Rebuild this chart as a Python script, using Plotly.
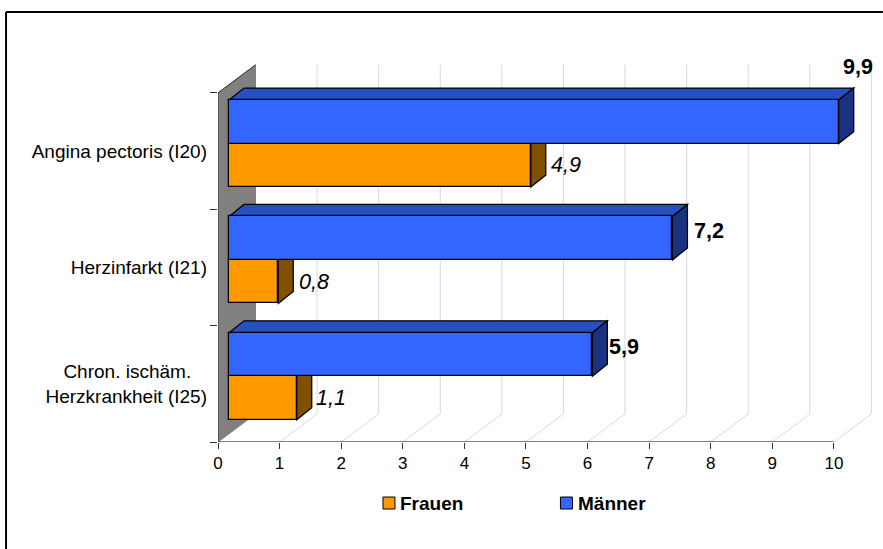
import plotly.graph_objects as go

# --- data ---
categories = ["Angina pectoris (I20)", "Herzinfarkt (I21)", "Chron. ischäm.<br>Herzkrankheit (I25)"]
series_names = ["Frauen", "Männer"]
frauen = [4.9, 0.8, 1.1]
maenner = [9.9, 7.2, 5.9]
x_ticks = [0, 1, 2, 3, 4, 5, 6, 7, 8, 9, 10]

# --- layout constants ---
W, H = 883, 549
PX_X = 61.6      # px per x unit
PX_Y = 116.33    # px per category
L, B = 218, 107
XMAX, YMAX = 10.7, 3.3
T = H - B - YMAX * PX_Y
R = W - L - XMAX * PX_X

WALL_DX, WALL_DY = 37.5 / PX_X, 28 / PX_Y
BASE = 11 / PX_X
BAR_H = 43.5 / PX_Y
BAR_DX, BAR_DY = 15 / PX_X, 12 / PX_Y
LIFT = 7.5 / PX_Y

n = len(categories)
pos = [n - 1 - i for i in range(n)]
ctr = [p + 0.5 for p in pos]
y_blue = [c + LIFT + BAR_H / 2 for c in ctr]
y_orange = [c + LIFT - BAR_H / 2 for c in ctr]

ORANGE, ORANGE_SIDE = "#ff9900", "#805000"
BLUE, BLUE_TOP, BLUE_SIDE = "#3366ff", "#2650bf", "#1a3380"
FONT = "Liberation Sans"
EDGE = 1.25


def poly(points, fill, line="#000000", width=EDGE):
    path = "M" + " L".join(f"{x:.4f},{y:.4f}" for x, y in points) + " Z"
    return dict(type="path", path=path, xref="x", yref="y", layer="below",
                fillcolor=fill, line=dict(color=line, width=width))


def seg(points, color, width=1):
    path = "M" + " L".join(f"{x:.4f},{y:.4f}" for x, y in points)
    return dict(type="path", path=path, xref="x", yref="y", layer="below",
                line=dict(color=color, width=width))


shapes = []
# frame
fx = lambda px: (px - L) / (W - L - R)
fy = lambda py: (H - B - py) / (H - T - B)
shapes.append(dict(type="line", xref="paper", yref="paper", x0=fx(6), x1=fx(W), y0=fy(12), y1=fy(12),
                   line=dict(color="#000000", width=2)))
shapes.append(dict(type="line", xref="paper", yref="paper", x0=fx(6), x1=fx(6), y0=fy(12), y1=fy(H),
                   line=dict(color="#000000", width=2)))
# back wall and floor grid
top = n
for v in x_ticks[1:]:
    shapes.append(seg([(v, 0), (v + WALL_DX, WALL_DY), (v + WALL_DX, top + WALL_DY)], "#d9d9d9"))
shapes.append(poly([(0, 0), (WALL_DX, WALL_DY), (WALL_DX, top + WALL_DY), (0, top)], "#808080", "#808080", 1))
shapes.append(seg([(0, 0), (0, top), (WALL_DX, top + WALL_DY)], "#333333"))
shapes.append(seg([(0, 0), (x_ticks[-1], 0)], "#555555", 1.5))
# depth faces of the bars
for vals, ys, top_col, side_col in ((frauen, y_orange, ORANGE, ORANGE_SIDE), (maenner, y_blue, BLUE_TOP, BLUE_SIDE)):
    for v, y in zip(vals, ys):
        x1 = BASE + v
        y0, y1 = y - BAR_H / 2, y + BAR_H / 2
        shapes.append(poly([(BASE, y1), (BASE + BAR_DX, y1 + BAR_DY), (x1 + BAR_DX, y1 + BAR_DY), (x1, y1)], top_col))
        shapes.append(poly([(x1, y0), (x1 + BAR_DX, y0 + BAR_DY), (x1 + BAR_DX, y1 + BAR_DY), (x1, y1)], side_col))

fig = go.Figure()
fig.add_trace(go.Bar(name=series_names[0], orientation="h", x=frauen, y=y_orange, base=BASE, width=BAR_H,
                     showlegend=False, marker=dict(color=ORANGE, line=dict(color="#000000", width=EDGE))))
fig.add_trace(go.Bar(name=series_names[1], orientation="h", x=maenner, y=y_blue, base=BASE, width=BAR_H,
                     showlegend=False, marker=dict(color=BLUE, line=dict(color="#000000", width=EDGE))))

# data labels: value, row, shift right, shift up
annotations = []
blue_shift = [(19, 55), (36.5, 7.5), (31.6, 7.5)]
orange_shift = [(35, 0), (36, 0), (34, 0)]
for v, y, (sx, sy) in zip(maenner, y_blue, blue_shift):
    annotations.append(dict(x=BASE + v, y=y, xref="x", yref="y", text=f"<b>{v:.1f}</b>".replace(".", ","),
                            showarrow=False, xshift=sx, yshift=sy, font=dict(family=FONT, size=21.5, color="#000000")))
for v, y, (sx, sy) in zip(frauen, y_orange, orange_shift):
    annotations.append(dict(x=BASE + v, y=y, xref="x", yref="y", text=f"<i>{v:.1f}</i>".replace(".", ","),
                            showarrow=False, xshift=sx, yshift=sy, font=dict(family=FONT, size=21.5, color="#000000")))

# legend row
for name, col, sw_px, txt_px in ((series_names[0], ORANGE, 383, 400), (series_names[1], BLUE, 560.5, 578)):
    shapes.append(dict(type="rect", xref="paper", yref="paper", x0=fx(sw_px), x1=fx(sw_px + 12),
                       y0=fy(509), y1=fy(497), fillcolor=col, line=dict(color="#000000", width=1)))
    annotations.append(dict(x=fx(txt_px), y=fy(503), xref="paper", yref="paper", xanchor="left", yanchor="middle",
                            text=f"<b>{name}</b>", showarrow=False, borderpad=0, xshift=-1,
                            font=dict(family=FONT, size=19, color="#000000")))

labels = [c.replace("<br>", "\u00a0\u00a0\u00a0<br>") for c in categories]

fig.update_layout(
    width=W, height=H, margin=dict(l=L, r=R, t=T, b=B, pad=0, autoexpand=False),
    paper_bgcolor="#ffffff", plot_bgcolor="rgba(0,0,0,0)",
    barmode="overlay", bargap=0, showlegend=False,
    shapes=shapes, annotations=annotations,
    font=dict(family=FONT, size=16, color="#000000"),
    xaxis=dict(range=[0, XMAX], tickvals=x_ticks, ticktext=[str(t) for t in x_ticks], ticks="outside",
               ticklen=6, tickcolor="#333333", showgrid=False, zeroline=False, showline=False,
               tickfont=dict(family=FONT, size=17)),
    yaxis=dict(range=[0, YMAX], tickvals=ctr, ticktext=labels, ticks="", ticklen=0, ticklabelstandoff=10,
               showgrid=False, zeroline=False, showline=False, tickfont=dict(family=FONT, size=19),
               minor=dict(tickvals=list(range(n + 1)), ticks="outside", ticklen=7, tickcolor="#333333", showgrid=False)),
)

fig.write_html("out.html", config=dict(displayModeBar=False),
               post_script="document.body.style.margin='0';document.body.style.overflow='hidden';")
